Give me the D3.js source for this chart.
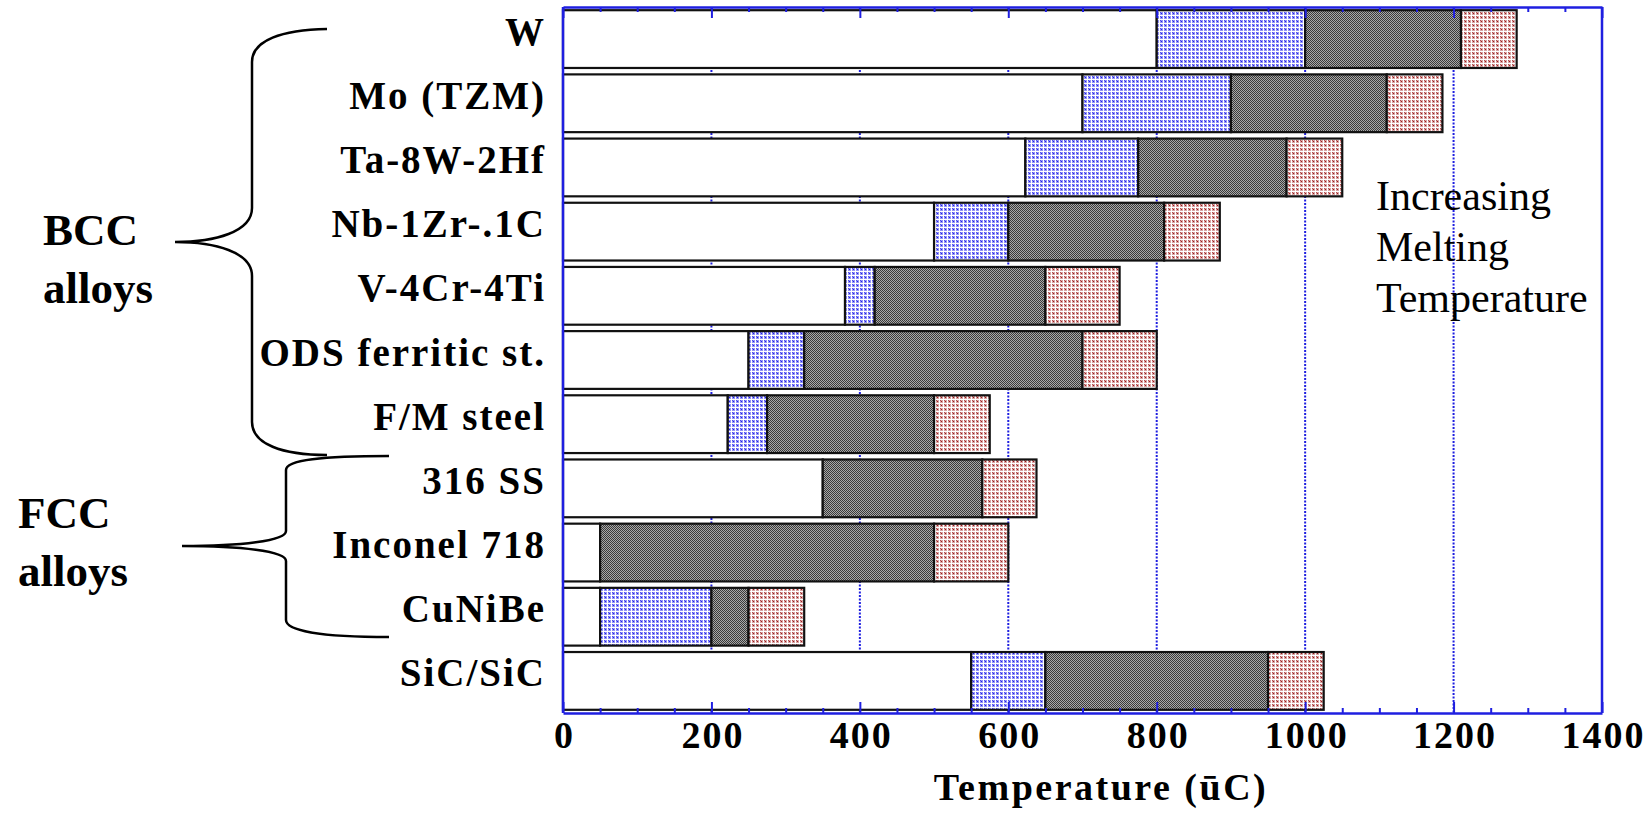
<!DOCTYPE html>
<html><head><meta charset="utf-8">
<script src="https://cdn.jsdelivr.net/npm/d3@7"></script>
<style>body{margin:0;background:#fff;} svg{display:block}</style>
</head><body>
<svg id="chart" width="1650" height="813"></svg>
<script>
// ---- data ----
const categories = ["W","Mo (TZM)","Ta-8W-2Hf","Nb-1Zr-.1C","V-4Cr-4Ti","ODS ferritic st.","F/M steel","316 SS","Inconel 718","CuNiBe","SiC/SiC"];
const whiteEnd = [800, 700, 623, 500, 380, 250, 222, 350, 50, 50, 550];
const blueEnd  = [1000, 900, 775, 600, 420, 325, 275, 350, 50, 200, 650];
const darkEnd  = [1210, 1110, 975, 810, 650, 700, 500, 565, 500, 250, 950];
const redEnd   = [1285, 1185, 1050, 885, 750, 800, 575, 638, 600, 325, 1025];
const majorTicks = [0, 200, 400, 600, 800, 1000, 1200, 1400];
const minorTicks = [50,100,150,250,300,350,450,500,550,650,700,750,850,900,950,1050,1100,1150,1250,1300,1350];
const gridValues = [200, 400, 600, 800, 1000, 1200];
const axisTitle = "Temperature (ūC)";
const noteLines = ["Increasing", "Melting", "Temperature"];

// ---- layout ----
const svg = d3.select("#chart");
const pLeft = 563, pRight = 1602, pTop = 7, pBottom = 713;
const x = d3.scaleLinear().domain([0, 1400]).range([pLeft, pRight]);
const y = d3.scaleBand().domain(categories).range([pTop, pBottom]).paddingInner(0.1).paddingOuter(0.05);
const blue = "#1f1fe0";

// ---- patterns ----
const defs = svg.append("defs");
function pat(id, size, build) {
  const p = defs.append("pattern").attr("id", id).attr("patternUnits", "userSpaceOnUse")
    .attr("width", size).attr("height", size);
  build(p);
}
pat("pBlue", 4, p => {
  p.append("rect").attr("width", 4).attr("height", 4).attr("fill", "#ffffff");
  p.append("rect").attr("width", 3).attr("height", 3).attr("fill", "#9494f6");
  p.append("rect").attr("x", 1).attr("y", 1).attr("width", 1).attr("height", 1).attr("fill", "#2020e6");
  p.append("rect").attr("x", 0).attr("y", 0).attr("width", 1).attr("height", 1).attr("fill", "#5050f0");
});
pat("pDark", 2, p => {
  p.append("rect").attr("width", 2).attr("height", 2).attr("fill", "#a8a8a8");
  p.append("rect").attr("width", 1).attr("height", 1).attr("fill", "#3a3a3a");
  p.append("rect").attr("x", 1).attr("y", 1).attr("width", 1).attr("height", 1).attr("fill", "#3a3a3a");
});
pat("pRed", 4, p => {
  p.append("rect").attr("width", 4).attr("height", 4).attr("fill", "#ffffff");
  p.append("rect").attr("width", 3).attr("height", 3).attr("fill", "#d8a4a4");
  p.append("rect").attr("x", 1).attr("y", 1).attr("width", 1).attr("height", 1).attr("fill", "#9a1a1a");
  p.append("rect").attr("x", 0).attr("y", 0).attr("width", 1).attr("height", 1).attr("fill", "#b65050");
});

// ---- gridlines ----
svg.append("g").selectAll("line").data(gridValues).join("line")
  .attr("x1", d => x(d)).attr("x2", d => x(d)).attr("y1", pTop).attr("y2", pBottom)
  .attr("stroke", blue).attr("stroke-width", 2).attr("stroke-dasharray", "2,1.5");

// ---- bars ----
const segs = [];
categories.forEach((c, i) => {
  const parts = [
    [0, whiteEnd[i], "#ffffff"],
    [whiteEnd[i], blueEnd[i], "url(#pBlue)"],
    [blueEnd[i], darkEnd[i], "url(#pDark)"],
    [darkEnd[i], redEnd[i], "url(#pRed)"]
  ];
  parts.forEach(p => { if (p[1] > p[0]) segs.push({ c, x0: p[0], x1: p[1], fill: p[2] }); });
});
svg.append("g").selectAll("rect").data(segs).join("rect")
  .attr("x", d => x(d.x0)).attr("width", d => x(d.x1) - x(d.x0))
  .attr("y", d => y(d.c)).attr("height", y.bandwidth())
  .attr("fill", d => d.fill).attr("stroke", "#111").attr("stroke-width", 2.2);

// ---- axes ----
const fontSerif = "'Liberation Serif','Times New Roman',serif";
function styleTicks(g) {
  g.selectAll(".tick line").attr("stroke", blue).attr("stroke-width", 2);
}
const gb = svg.append("g").attr("transform", `translate(0,${pBottom})`)
  .call(d3.axisBottom(x).tickValues(majorTicks).tickFormat(d3.format("d")).tickSize(-11).tickSizeOuter(0).tickPadding(0));
gb.select(".domain").attr("stroke", blue).attr("stroke-width", 2.5);
styleTicks(gb);
gb.selectAll(".tick text").attr("y", 35).attr("dy", 0)
  .style("font-family", fontSerif).style("font-weight", "bold").style("font-size", "38px")
  .style("letter-spacing", "2px").attr("dx", 1).attr("fill", "#000");

const gbm = svg.append("g").attr("transform", `translate(0,${pBottom})`)
  .call(d3.axisBottom(x).tickValues(minorTicks).tickSize(-5).tickSizeOuter(0).tickFormat(""));
gbm.select(".domain").remove();
styleTicks(gbm);

const gt = svg.append("g").attr("transform", `translate(0,${pTop})`)
  .call(d3.axisTop(x).tickValues(majorTicks).tickSize(-11).tickSizeOuter(0).tickFormat(""));
gt.select(".domain").attr("stroke", blue).attr("stroke-width", 2.5);
styleTicks(gt);
const gtm = svg.append("g").attr("transform", `translate(0,${pTop})`)
  .call(d3.axisTop(x).tickValues(minorTicks).tickSize(-5).tickSizeOuter(0).tickFormat(""));
gtm.select(".domain").remove();
styleTicks(gtm);

svg.append("line").attr("x1", pLeft).attr("x2", pLeft).attr("y1", pTop).attr("y2", pBottom)
  .attr("stroke", blue).attr("stroke-width", 2.5);
svg.append("line").attr("x1", pRight).attr("x2", pRight).attr("y1", pTop).attr("y2", pBottom)
  .attr("stroke", blue).attr("stroke-width", 2.5);

// category labels
const gl = svg.append("g").attr("transform", `translate(${pLeft},0)`)
  .call(d3.axisLeft(y).tickSize(0).tickPadding(0));
gl.select(".domain").remove();
gl.selectAll(".tick text").attr("x", -17).attr("dy", 0).attr("y", 5.5)
  .style("font-family", fontSerif).style("font-weight", "bold").style("font-size", "39px")
  .style("letter-spacing", "2px").attr("fill", "#000");

// axis title
svg.append("text").attr("x", 1101).attr("y", 800).attr("text-anchor", "middle")
  .style("font-family", fontSerif).style("font-weight", "bold").style("font-size", "38px")
  .style("letter-spacing", "2.5px").text(axisTitle);

// note
svg.append("text").attr("x", 1376).attr("y", 210)
  .style("font-family", fontSerif).style("font-size", "42px")
  .selectAll("tspan").data(noteLines).join("tspan")
  .attr("x", 1376).attr("y", (d, i) => 210 + i * 51).text(d => d);

// group labels and braces
const groupLabels = [
  { lines: ["BCC", "alloys"], x: 43, y: 245 },
  { lines: ["FCC", "alloys"], x: 18, y: 528 }
];
groupLabels.forEach(g => {
  svg.append("text").style("font-family", fontSerif).style("font-weight", "bold").style("font-size", "45px")
    .selectAll("tspan").data(g.lines).join("tspan")
    .attr("x", g.x).attr("y", (d, i) => g.y + i * 58).text(d => d);
});
const braces = [
  "M327,29 C282,30 252,40 252,62 L252,208 C252,232 215,242 175,242 C215,242 252,252 252,276 L252,422 C252,444 282,455 327,455",
  "M389,456 C322,456 286,460 286,470 L286,531 C286,541 240,546 182,546 C240,546 286,551 286,561 L286,620 C286,631 322,637 389,637"
];
svg.append("g").selectAll("path").data(braces).join("path")
  .attr("d", d => d).attr("fill", "none").attr("stroke", "#000").attr("stroke-width", 2.5);
</script>
</body></html>
